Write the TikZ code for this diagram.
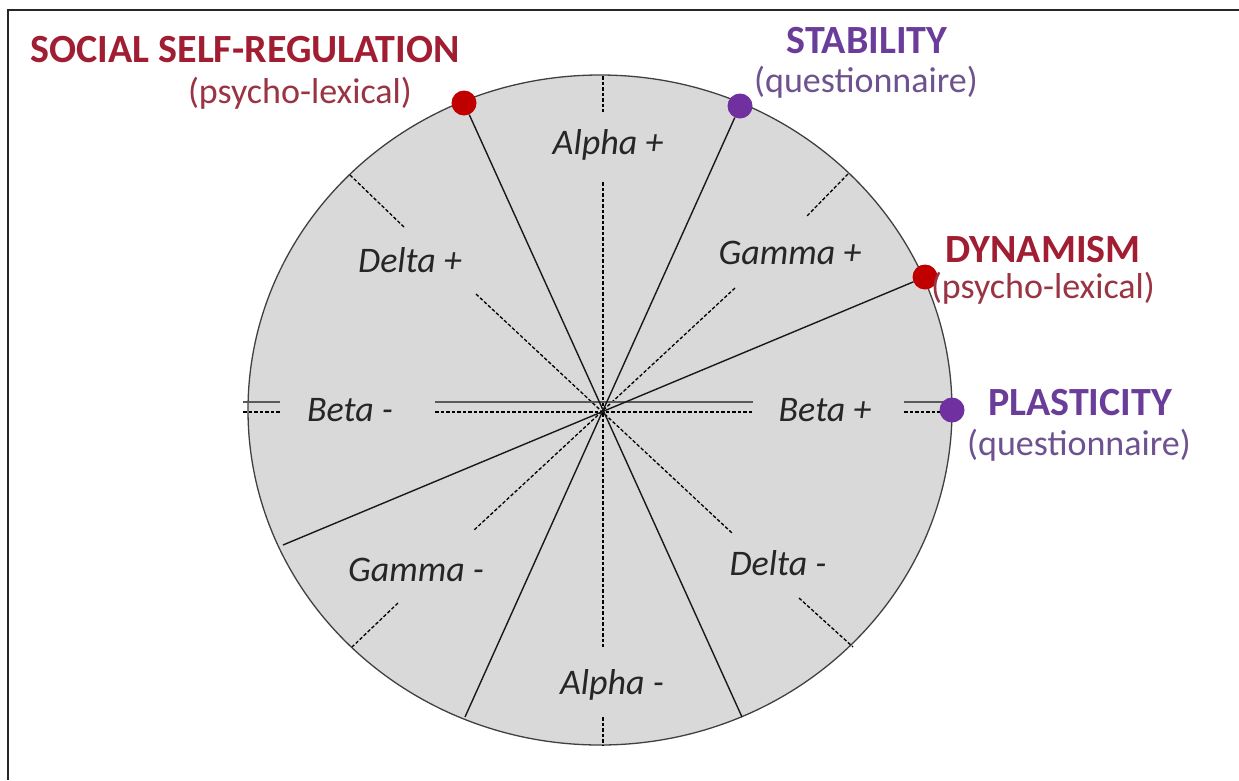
\documentclass[tikz,border=0pt]{standalone}
\usepackage{fontspec}
\setmainfont{Carlito}
\usetikzlibrary{calc}
\usepackage{xcolor}
\definecolor{dimred}{HTML}{A01D32}
\definecolor{subred}{HTML}{9A3342}
\definecolor{dotred}{HTML}{C00000}
\definecolor{dimpurple}{HTML}{6A3D9A}
\definecolor{subpurple}{HTML}{6E5290}
\definecolor{dotpurple}{HTML}{7030A0}
\definecolor{discgray}{HTML}{D9D9D9}

\begin{document}
\begin{tikzpicture}[x=1pt, y=-1pt,
  axis/.style={black, line width=1.3pt, dash pattern=on 3.5pt off 2pt},
  spoke/.style={black!90, line width=1.4pt},
  dot/.style={circle, inner sep=0pt, minimum size=25pt},
  tag/.style={font=\fontsize{36}{40}\selectfont\itshape, text=black!85, inner sep=0pt},
  head/.style={font=\fontsize{40}{44}\selectfont\bfseries, inner sep=0pt},
  sub/.style={font=\fontsize{36}{40}\selectfont, inner sep=0pt}]
\useasboundingbox (0,0) rectangle (1239,780);
\fill[white] (0,0) rectangle (1239,780);
\draw[black!85, line width=1.8pt] (8,780) -- (8,10) -- (1239,10);
\draw[fill=discgray, draw=black!75, line width=1.3pt] (600,410) ellipse [x radius=352pt, y radius=335pt];
\coordinate (o) at (603,410);
% dashed axes
\foreach \ax/\ay/\bx/\by in {603/76/603/112, 603/182/603/647, 603/717/603/745,
  350/175/405/228, 476/294/732/533, 799/598/853/647,
  848/174/806/217, 735/288/473/531, 398/603/352/647} {
\draw[axis] (\ax,\ay) -- (\bx,\by);
}
\foreach \xa/\xb in {243/280, 435/753, 904/947} {
\draw[spoke, black!65, line width=1.8pt] (\xa,402) -- (\xb,402);
\draw[axis] (\xa,412) -- (\xb,412);
}
% axis names
\node[tag] (alphap) at (608,145) {Alpha +};
\node[tag] (alpham) at (612,685) {Alpha -};
\node[tag] (betam) at (350,410) {Beta -};
\node[tag] (betap) at (825,410) {Beta +};
\node[tag] (deltap) at (410,260) {Delta +};
\node[tag] (deltam) at (778,563) {Delta -};
\node[tag] (gammap) at (790,253) {Gamma +};
\node[tag] (gammam) at (416,570) {Gamma -};
% factors
\node[dot, fill=dotred] (ssrdot) at (464,103) {};
\node[dot, fill=dotpurple] (stabdot) at (740,106) {};
\node[dot, fill=dotred] (dyndot) at (925,277) {};
\node[dot, fill=dotpurple] (plasdot) at (952,410) {};
\coordinate (ssrend) at (742,717);
\coordinate (stabend) at (465,717);
\coordinate (dynend) at (283,545);
\draw[spoke] (ssrdot) -- (ssrend);
\draw[spoke] (stabdot) -- (stabend);
\draw[spoke] (dyndot) -- (dynend);
\node[head, text=dimred] (ssr) at (245,50) {SOCIAL SELF-REGULATION};
\node[sub, text=subred] (ssrsub) at (300,93) {(psycho-lexical)};
\node[head, text=dimpurple] (stab) at (867,41) {STABILITY};
\node[sub, text=subpurple] (stabsub) at (866,82) {(questionnaire)};
\node[head, text=dimred] (dyn) at (1043,250) {DYNAMISM};
\node[sub, text=subred] (dynsub) at (1043,288) {(psycho-lexical)};
\node[head, text=dimpurple] (plas) at (1080,403) {PLASTICITY};
\node[sub, text=subpurple] (plassub) at (1079,445) {(questionnaire)};
\end{tikzpicture}
\end{document}
